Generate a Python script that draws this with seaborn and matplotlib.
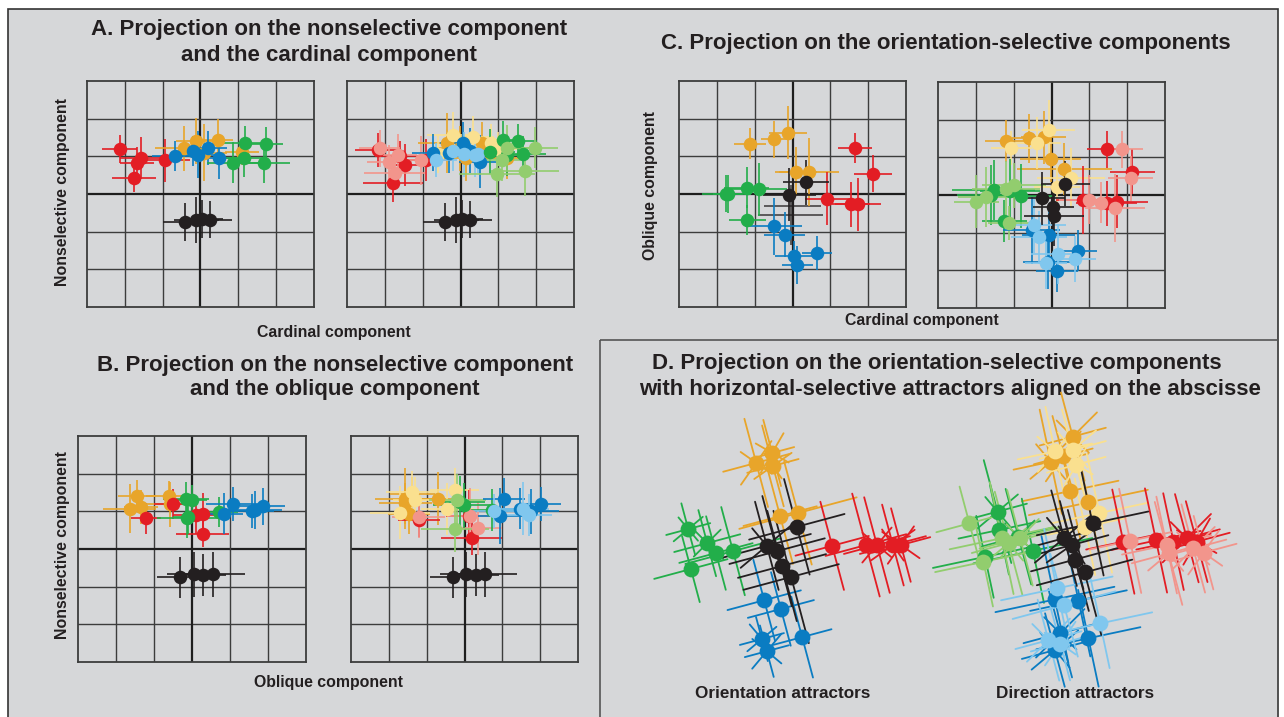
import numpy as np
import pandas as pd
import matplotlib
matplotlib.use("Agg")
import matplotlib.pyplot as plt
import seaborn as sns
from matplotlib.patches import Rectangle

sns.set_style("white")
plt.rcParams['font.family'] = ['Liberation Sans', 'DejaVu Sans']

W, H = 1284, 717
BG = '#d6d7d9'
COL = dict(red='#e31d24', pink='#f2958c', orange='#e8a52a', yellow='#fae08f',
           green='#22ae4a', lgreen='#92cd6e', blue='#0a7cc2', lblue='#80c7ee',
           black='#231f20')

# ---------------- data: [x, y, xerr, yerr] in grid units ----------------
# Panel A left: cardinal (x) vs nonselective (y)
A1_red = [[-2.14, -1.58, -1.68, -1.76, -0.95], [1.19, 0.95, 0.81, 0.42, 0.89],
          [0.46, 0.55, 0.45, 0.58, 0.66], [0.38, 0.55, 0.45, 0.38, 0.58]]
A1_orange = [[-0.44, -0.11, 0.45, 1.09, 0.10], [1.21, 1.41, 1.43, 1.12, 1.10],
             [0.75, 0.55, 0.40, 0.45, 0.60], [0.60, 0.62, 0.55, 0.35, 0.75]]
A1_blue = [[-0.68, -0.06, 0.20, 0.48, -0.20], [1.01, 1.04, 1.21, 0.95, 1.15],
           [0.60, 0.65, 0.50, 0.60, 0.40], [0.40, 0.62, 0.45, 0.55, 0.40]]
A1_green = [[1.18, 1.73, 0.87, 1.16, 1.67], [1.35, 1.32, 0.83, 0.96, 0.83],
            [0.60, 0.45, 0.70, 0.60, 0.70], [0.45, 0.45, 0.55, 0.50, 0.55]]
A1_black = [[-0.40, -0.11, 0.05, 0.24], [-0.75, -0.69, -0.67, -0.68],
            [0.60, 0.60, 0.55, 0.60], [0.50, 0.60, 0.50, 0.50]]

# Panel A right
A2_red = [[-2.19, -1.48, -1.79, -0.92, -1.60], [1.17, 0.77, 0.28, 0.90, 1.00],
          [0.60, 0.55, 0.80, 0.70, 0.65], [0.45, 0.55, 0.50, 0.55, 0.40]]
A2_pink = [[-2.14, -1.88, -1.65, -1.74, -1.04], [1.21, 0.86, 1.04, 0.55, 0.90],
           [0.55, 0.60, 0.50, 0.80, 0.65], [0.50, 0.45, 0.55, 0.45, 0.65]]
A2_orange = [[-0.37, -0.02, 0.56, 1.22, 0.15], [1.35, 1.21, 1.35, 0.95, 0.95],
             [0.75, 0.60, 0.55, 0.50, 0.65], [0.80, 0.60, 0.55, 0.55, 0.60]]
A2_yellow = [[-0.19, 0.34, -0.60, 1.00, 0.80], [1.57, 1.52, 1.05, 1.20, 1.35],
             [0.70, 0.55, 0.45, 0.50, 0.50], [0.60, 0.55, 0.50, 0.45, 0.50]]
A2_blue = [[0.07, -0.72, 0.51, -0.30, 0.25], [1.35, 1.10, 0.86, 1.10, 1.15],
           [0.60, 0.55, 0.55, 0.50, 0.55], [0.55, 0.50, 0.70, 0.55, 0.60]]
A2_lblue = [[-0.64, 0.38, -0.20, 0.10, 0.45], [0.90, 1.04, 1.15, 1.05, 1.05],
            [0.55, 0.50, 0.55, 0.45, 0.45], [0.45, 0.60, 0.55, 0.60, 0.50]]
A2_green = [[1.12, 1.53, 0.78, 1.65, 1.22], [1.43, 1.41, 1.12, 1.05, 1.04],
            [0.55, 0.50, 0.65, 0.60, 0.55], [0.50, 0.45, 0.60, 0.50, 0.55]]
A2_lgreen = [[1.22, 1.97, 1.09, 0.96, 1.71], [1.23, 1.23, 0.90, 0.53, 0.61],
             [0.65, 0.60, 0.60, 1.00, 0.90], [0.60, 0.55, 0.55, 0.60, 0.65]]
A2_black = [[-0.40, -0.11, 0.05, 0.24], [-0.75, -0.69, -0.67, -0.68],
            [0.60, 0.60, 0.55, 0.60], [0.50, 0.60, 0.50, 0.50]]

# Panel C left: cardinal (x) vs oblique (y)
C1_orange = [[-1.13, -0.49, -0.11, 0.09, 0.43], [1.34, 1.45, 1.63, 0.59, 0.59],
             [0.42, 0.35, 0.50, 0.55, 0.80], [0.40, 0.50, 0.70, 0.65, 0.90]]
C1_red = [[1.64, 2.12, 0.92, 1.54, 1.73], [1.22, 0.54, -0.12, -0.27, -0.27],
          [0.45, 0.50, 0.60, 0.50, 0.60], [0.40, 0.50, 0.70, 0.60, 0.70]]
C1_green = [[-1.75, -1.21, -0.89, -1.19, -1.70], [0.01, 0.17, 0.12, -0.70, 0.00],
            [0.65, 0.60, 0.75, 0.50, 0.40], [0.50, 0.55, 0.70, 0.40, 0.50]]
C1_blue = [[-0.50, -0.21, 0.03, 0.13, 0.64], [-0.86, -1.08, -1.65, -1.88, -1.57],
           [0.75, 0.55, 0.50, 0.40, 0.40], [0.75, 0.60, 0.40, 0.50, 0.45]]
C1_black = [[0.36, -0.08], [0.31, -0.02], [0.60, 0.70], [0.60, 0.70]]
C1_black_bars = [[0.00, -0.05], [-0.31, -0.55], [0.75, 0.85], [0.70, 0.80]]

# Panel C right
C2_orange = [[-1.20, -0.59, -0.21, -0.02, 0.34], [1.43, 1.51, 1.53, 0.95, 0.69],
             [0.55, 0.50, 0.60, 0.80, 1.25], [0.55, 0.65, 0.70, 0.60, 0.70]]
C2_yellow = [[-1.06, -0.39, -0.07, 0.52, 0.15], [1.25, 1.38, 1.72, 0.46, 0.20],
             [0.55, 0.65, 0.70, 0.90, 0.60], [0.45, 0.70, 0.80, 0.80, 0.60]]
C2_red = [[1.48, 2.14, 0.83, 1.46, 1.74], [1.21, 0.62, -0.13, -0.22, -0.18],
          [0.55, 0.60, 0.70, 0.80, 0.80], [0.50, 0.60, 0.90, 0.60, 0.70]]
C2_pink = [[1.86, 2.09, 0.99, 1.68, 1.30], [1.21, 0.44, -0.13, -0.35, -0.20],
           [0.55, 0.60, 0.80, 0.80, 0.60], [0.50, 0.60, 0.65, 0.90, 0.55]]
C2_green = [[-1.53, -0.81, -1.25, -1.60, -1.10], [0.13, -0.02, -0.69, 0.00, 0.10],
            [1.10, 0.90, 0.60, 0.90, 0.80], [0.80, 0.85, 0.55, 0.80, 0.85]]
C2_lgreen = [[-1.99, -1.72, -1.21, -0.99, -1.13], [-0.18, -0.06, 0.15, 0.26, -0.75],
             [0.60, 0.75, 0.90, 0.85, 0.55], [0.70, 0.80, 0.75, 0.60, 0.45]]
C2_blue = [[-0.52, -0.07, -0.10, 0.14, 0.70], [-0.94, -1.07, -1.79, -2.02, -1.48],
           [0.75, 0.70, 0.65, 0.55, 0.50], [0.90, 0.80, 0.70, 0.55, 0.55]]
C2_lblue = [[-0.47, -0.33, 0.17, 0.62, -0.15], [-0.79, -1.12, -1.56, -1.70, -1.80],
            [0.85, 0.75, 0.70, 0.55, 0.55], [0.75, 0.70, 0.80, 0.60, 0.70]]
C2_black = [[0.37, -0.25, 0.05, 0.07], [0.30, -0.09, -0.31, -0.55],
            [0.65, 0.60, 0.55, 0.80], [0.60, 0.70, 0.60, 0.80]]

# Panel B left: oblique (x) vs nonselective (y)
B1_orange = [[-1.46, -1.64, -1.35, -0.60, -0.58], [1.42, 1.07, 1.12, 1.41, 1.19],
             [0.50, 0.70, 0.45, 0.60, 0.60], [0.40, 0.65, 0.45, 0.40, 0.60]]
B1_red = [[-1.21, -0.50, 0.11, 0.28, 0.28], [0.81, 1.19, 0.90, 0.94, 0.41],
          [0.40, 0.50, 0.60, 0.40, 0.70], [0.40, 0.40, 0.50, 0.55, 0.35]]
B1_green = [[-0.16, -0.12, 0.72, 0.00, -0.10], [1.34, 0.83, 0.99, 1.30, 0.85],
            [0.60, 0.80, 0.50, 0.40, 0.40], [0.45, 0.55, 0.40, 0.40, 0.45]]
B1_blue = [[0.85, 1.07, 1.57, 1.66, 1.86], [0.94, 1.19, 1.00, 1.03, 1.13],
           [0.50, 0.70, 0.60, 0.70, 0.60], [0.55, 0.45, 0.45, 0.50, 0.50]]
B1_black = [[-0.32, 0.04, 0.30, 0.55], [-0.75, -0.67, -0.69, -0.67],
            [0.60, 0.70, 0.60, 0.85], [0.55, 0.60, 0.55, 0.60]]

# Panel B right
B2_orange = [[-1.56, -1.56, -0.70, -1.47, -1.38], [1.34, 1.21, 1.34, 0.94, 1.47],
             [0.80, 0.70, 0.60, 0.55, 0.60], [0.80, 0.55, 0.70, 0.55, 0.45]]
B2_yellow = [[-1.71, -1.38, -0.46, -0.26, -1.30], [0.96, 1.52, 1.06, 1.56, 1.30],
             [0.80, 0.70, 0.70, 0.65, 0.60], [0.70, 0.55, 0.70, 0.60, 0.60]]
B2_red = [[-1.21, 0.19, 0.11], [0.77, 0.28, 0.87], [0.55, 0.80, 0.60], [0.45, 0.45, 0.70]]
B2_pink = [[-1.21, 0.14, 0.35], [0.84, 0.87, 0.55], [0.70, 0.60, 0.65], [0.55, 0.75, 0.70]]
B2_green = [[-0.02, -0.11, 0.73], [1.16, 1.25, 1.03], [0.80, 0.65, 0.55], [0.60, 0.70, 0.55]]
B2_lgreen = [[-0.26, -0.19], [0.53, 1.30], [0.90, 0.75], [0.60, 0.70]]
B2_blue = [[1.04, 0.95, 1.76, 2.01, 1.48], [1.34, 0.87, 1.00, 1.19, 1.07],
           [0.55, 0.60, 0.75, 0.55, 0.55], [0.55, 0.75, 0.60, 0.45, 0.55]]
B2_lblue = [[0.78, 1.54, 1.70], [1.00, 1.07, 0.90], [0.70, 0.70, 0.60], [0.45, 0.70, 0.55]]
B2_black = [[-0.31, 0.04, 0.31, 0.55], [-0.75, -0.67, -0.69, -0.67],
            [0.60, 0.70, 0.60, 0.85], [0.55, 0.60, 0.55, 0.60]]

# ---------------- panel D: [x, y, angle, a, b, angle2, a2, b2] ----------------
D1_orange = [[-0.89, -0.47, -0.45, -0.26, 0.21], [2.29, 2.55, 2.21, 0.89, 0.97],
             [15, 15, 15, 15, 15], [0.90, 0.60, 0.70, 1.00, 1.60], [1.20, 0.90, 1.10, 1.30, 1.40],
             [55, 60, 35, 0, 0], [0.70, 0.60, 0.60, 0, 0], [0.50, 0.50, 0.40, 0, 0]]
D1_black = [[-0.61, -0.34, 0.18, -0.21, 0.03], [0.11, -0.03, 0.61, -0.42, -0.71],
            [15, 15, 15, 15, 15], [1.20, 1.30, 1.30, 1.20, 1.30], [1.20, 1.50, 1.30, 1.50, 1.80],
            [40, 0, 0, 0, 0], [0.90, 0, 0, 0, 0], [0.60, 0, 0, 0, 0]]
D1_red = [[1.11, 2.00, 2.29, 2.71, 2.92], [0.11, 0.13, 0.13, 0.13, 0.13],
          [15, 15, 15, 15, 15], [1.00, 1.10, 0.90, 0.90, 0.80], [1.20, 1.40, 1.30, 1.10, 1.00],
          [0, 0, 50, 35, 55], [0, 0, 0.60, 0.70, 0.60], [0, 0, 0.50, 0.50, 0.60]]
D1_green = [[-2.68, -2.18, -1.95, -1.50, -2.61], [0.55, 0.18, -0.08, -0.03, -0.50],
            [15, 15, 15, 15, 15], [0.60, 0.90, 1.00, 1.30, 1.00], [0.70, 0.90, 1.00, 1.20, 0.90],
            [40, 45, 0, 0, 0], [0.50, 0.50, 0, 0, 0], [0.40, 0.60, 0, 0, 0]]
D1_blue = [[-0.68, -0.24, -0.74, -0.61, 0.32], [-1.32, -1.55, -2.34, -2.66, -2.29],
           [15, 15, 15, 15, 15], [1.00, 0.90, 0.60, 0.60, 0.80], [1.10, 1.00, 0.60, 0.70, 1.10],
           [0, 0, 40, 50, 0], [0, 0, 0.50, 0.60, 0], [0, 0, 0.50, 0.50, 0]]

D2_orange = [[-0.06, -0.64, -0.13, 0.35, -0.31], [2.98, 2.32, 1.55, 1.25, 2.46],
             [15, 12, 12, 12, 15], [0.90, 1.00, 1.30, 1.60, 0.80], [1.20, 1.40, 1.30, 1.40, 1.10],
             [45, 40, 0, 0, 55], [0.90, 0.70, 0, 0, 0.80], [0.60, 0.60, 0, 0, 0.60]]
D2_yellow = [[-0.53, -0.06, 0.03, 0.64, 0.26], [2.59, 2.63, 2.24, 0.97, 0.61],
             [12, 15, 15, 12, 12], [1.00, 0.90, 0.80, 1.30, 1.10], [1.20, 1.10, 1.00, 1.60, 1.30],
             [50, 40, 60, 0, 0], [0.70, 0.80, 0.60, 0, 0], [0.60, 0.60, 0.50, 0, 0]]
D2_red = [[1.27, 2.13, 2.94, 3.20, 2.59], [0.22, 0.25, 0.31, 0.22, 0.22],
          [12, 12, 15, 15, 12], [1.00, 1.20, 0.90, 0.90, 1.00], [1.40, 1.40, 1.20, 1.10, 1.30],
          [0, 0, 45, 60, 0], [0, 0, 0.90, 0.70, 0], [0, 0, 0.60, 0.60, 0]]
D2_pink = [[1.45, 2.41, 2.46, 3.11, 3.38], [0.24, 0.13, -0.09, 0.04, -0.07],
           [12, 12, 15, 15, 15], [1.10, 1.20, 1.00, 0.90, 0.90], [1.40, 1.30, 1.40, 1.20, 1.00],
           [0, 0, 40, 45, 55], [0, 0, 0.70, 0.80, 0.70], [0, 0, 0.60, 0.60, 0.60]]
D2_green = [[-2.04, -1.99, -1.11, -2.37, -1.49], [1.01, 0.53, -0.02, -0.18, 0.35],
            [15, 12, 12, 12, 15], [0.80, 1.10, 1.60, 1.40, 1.00], [1.40, 1.20, 1.40, 1.10, 1.30],
            [40, 0, 0, 0, 45], [0.70, 0, 0, 0, 0.60], [0.50, 0, 0, 0, 0.50]]
D2_lgreen = [[-2.78, -1.93, -1.45, -2.41, -1.75], [0.70, 0.31, 0.32, -0.31, 0.18],
             [15, 12, 15, 12, 15], [0.90, 1.40, 1.10, 1.30, 1.00], [1.00, 1.50, 1.30, 1.20, 1.40],
             [0, 0, 45, 0, 40], [0, 0, 0.70, 0, 0.60], [0, 0, 0.50, 0, 0.60]]
D2_black = [[-0.29, -0.09, 0.46, 0.00, 0.25], [0.31, 0.13, 0.70, -0.25, -0.59],
            [15, 15, 12, 15, 15], [1.00, 1.00, 1.50, 1.20, 1.30], [1.30, 1.20, 1.40, 1.40, 1.70],
            [40, 35, 0, 0, 0], [1.00, 0.80, 0, 0, 0], [0.70, 0.60, 0, 0, 0]]
D2_blue = [[-0.53, 0.09, -0.39, 0.35, -0.53], [-1.30, -1.33, -2.19, -2.32, -2.63],
           [12, 12, 15, 12, 15], [1.60, 1.30, 1.00, 1.40, 0.90], [1.70, 1.50, 1.20, 1.30, 1.00],
           [0, 0, 45, 0, 40], [0, 0, 0.90, 0, 0.80], [0, 0, 0.60, 0, 0.60]]
D2_lblue = [[-0.48, -0.29, 0.66, -0.70, -0.39], [-1.01, -1.45, -1.93, -2.37, -2.46],
            [12, 15, 12, 15, 15], [1.50, 1.40, 1.40, 0.90, 0.80], [1.60, 1.40, 1.20, 1.10, 1.00],
            [0, 0, 0, 45, 55], [0, 0, 0, 0.80, 0.70], [0, 0, 0, 0.60, 0.50]]

# ---------------- figure ----------------
fig = plt.figure(figsize=(W / 100, H / 100), dpi=100)
fig.patch.set_facecolor('white')

bg = fig.add_axes([0, 0, 1, 1])
bg.set_xlim(0, W)
bg.set_ylim(H, 0)
bg.axis('off')
bg.add_patch(Rectangle((8, 9), 1270, 720, facecolor=BG, edgecolor='#333333', lw=1.2))
bg.add_patch(Rectangle((600, 340), 678, 390, facecolor='none', edgecolor='#555555', lw=1.2))

TFS = 16
LFS = 11.4
SFS = 12.3
def txt(x, y, s, size, rot=0):
    bg.text(x, y, s, fontsize=size, fontweight='bold', ha='center', va='center',
            rotation=rot, color='#231f20')

txt(329, 30, "A. Projection on the nonselective component", TFS)
txt(329, 55, "and the cardinal component", TFS)
txt(334, 333, "Cardinal component", LFS)
txt(63, 192, "Nonselective component", LFS, 90)
txt(946, 43, "C. Projection on the orientation-selective components", TFS)
txt(650, 185, "Oblique component", LFS, 90)
txt(922, 320, "Cardinal component", LFS)
txt(335, 365, "B. Projection on the nonselective component", TFS)
txt(335, 390, "and the oblique component", TFS)
txt(63, 545, "Nonselective component", LFS, 90)
txt(329, 683, "Oblique component", LFS)
txt(937, 364, "D. Projection on the orientation-selective components", TFS)
txt(950, 389, "with horizontal-selective attractors aligned on the abscisse", TFS)
txt(783, 694, "Orientation attractors", SFS)
txt(1075, 694, "Direction attractors", SFS)


def px_axes(x0, y0, x1, y1):
    return fig.add_axes([x0 / W, 1 - y1 / H, (x1 - x0) / W, (y1 - y0) / H])


def grid_panel(box, series, extra_bars=()):
    ax = px_axes(*box)
    ax.set_facecolor('none')
    ax.set_xlim(-3, 3)
    ax.set_ylim(-3, 3)
    for v in range(-2, 3):
        lw, c = (1.6, '#1e1e1e') if v == 0 else (1.0, '#3c3c3c')
        ax.axvline(v, color=c, lw=lw, zorder=1)
        ax.axhline(v, color=c, lw=lw, zorder=1)
    for s in ax.spines.values():
        s.set_color('#3c3c3c')
        s.set_linewidth(1.3)
        s.set_visible(True)
    ax.set_xticks([])
    ax.set_yticks([])
    for name, d in extra_bars:
        ax.errorbar(d[0], d[1], xerr=d[2], yerr=d[3], fmt='none', ecolor=COL[name],
                    elinewidth=1.2, alpha=0.8, zorder=2)
    for name, d in series:
        ax.errorbar(d[0], d[1], xerr=d[2], yerr=d[3], fmt='none', ecolor=COL[name],
                    elinewidth=1.2, zorder=2)
        df = pd.DataFrame({'x': d[0], 'y': d[1]})
        sns.scatterplot(data=df, x='x', y='y', ax=ax, color=COL[name], s=95,
                        linewidth=0, zorder=3, legend=False)
    ax.set_xlabel('')
    ax.set_ylabel('')
    return ax


grid_panel((87, 81, 314, 307), [('red', A1_red), ('orange', A1_orange), ('blue', A1_blue),
                                 ('green', A1_green), ('black', A1_black)])
grid_panel((347, 81, 574, 307), [('red', A2_red), ('pink', A2_pink), ('orange', A2_orange),
                                  ('yellow', A2_yellow), ('blue', A2_blue), ('lblue', A2_lblue),
                                  ('green', A2_green), ('lgreen', A2_lgreen), ('black', A2_black)])
grid_panel((679, 81, 906, 307), [('orange', C1_orange), ('red', C1_red), ('green', C1_green),
                                  ('blue', C1_blue), ('black', C1_black)],
           extra_bars=[('black', C1_black_bars)])
grid_panel((938, 82, 1165, 308), [('orange', C2_orange), ('yellow', C2_yellow), ('red', C2_red),
                                   ('pink', C2_pink), ('green', C2_green), ('lgreen', C2_lgreen),
                                   ('blue', C2_blue), ('lblue', C2_lblue), ('black', C2_black)])
grid_panel((78, 436, 306, 662), [('orange', B1_orange), ('red', B1_red), ('green', B1_green),
                                  ('blue', B1_blue), ('black', B1_black)])
grid_panel((351, 436, 578, 662), [('orange', B2_orange), ('yellow', B2_yellow), ('red', B2_red),
                                   ('pink', B2_pink), ('green', B2_green), ('lgreen', B2_lgreen),
                                   ('blue', B2_blue), ('lblue', B2_lblue), ('black', B2_black)])


def cross_panel(box, xlim, ylim, series):
    ax = px_axes(*box)
    ax.set_facecolor('none')
    ax.axis('off')
    ax.set_xlim(*xlim)
    ax.set_ylim(*ylim)
    for name, d in series:
        x, y, ang, a, b, ang2, a2, b2 = [np.asarray(v, float) for v in d]
        for i in range(len(x)):
            for th, la, lb in ((ang[i], a[i], b[i]), (ang2[i], a2[i], b2[i])):
                if la <= 0:
                    continue
                t = np.deg2rad(th)
                ux, uy = np.cos(t), np.sin(t)
                ax.plot([x[i] - la * ux, x[i] + la * ux], [y[i] - la * uy, y[i] + la * uy],
                        color=COL[name], lw=1.3, zorder=2, clip_on=False)
                ax.plot([x[i] + lb * uy, x[i] - lb * uy], [y[i] - lb * ux, y[i] + lb * ux],
                        color=COL[name], lw=1.3, zorder=2, clip_on=False)
        df = pd.DataFrame({'x': d[0], 'y': d[1]})
        sns.scatterplot(data=df, x='x', y='y', ax=ax, color=COL[name], s=130,
                        linewidth=0, zorder=3, legend=False, clip_on=False)
    ax.set_xlabel('')
    ax.set_ylabel('')
    return ax


cross_panel((640, 410, 940, 690), (-3.95, 3.95), (-3.68, 3.68),
            [('orange', D1_orange), ('green', D1_green), ('red', D1_red),
             ('blue', D1_blue), ('black', D1_black)])
cross_panel((920, 410, 1240, 690), (-4.08, 4.34), (-3.68, 3.68),
            [('orange', D2_orange), ('yellow', D2_yellow), ('green', D2_green),
             ('lgreen', D2_lgreen), ('red', D2_red), ('pink', D2_pink),
             ('blue', D2_blue), ('lblue', D2_lblue), ('black', D2_black)])

fig.savefig('out.png', dpi=100, facecolor='white')
